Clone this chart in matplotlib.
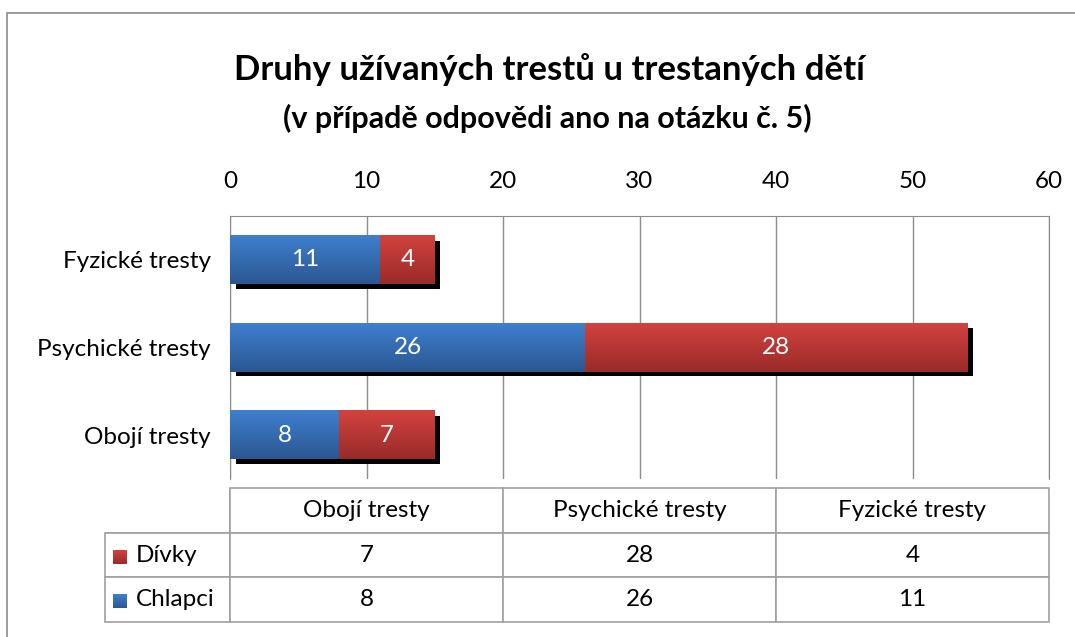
import numpy as np
import matplotlib
matplotlib.use("Agg")
import matplotlib.pyplot as plt
import matplotlib.patheffects as pe
from matplotlib.colors import LinearSegmentedColormap
from matplotlib.patches import Rectangle

plt.rcParams['font.family'] = ['Lato', 'DejaVu Sans']

# data (table order = bottom-to-top in chart)
categories = ['Obojí tresty', 'Psychické tresty', 'Fyzické tresty']
chlapci = [8, 26, 11]
divky = [7, 28, 4]
series_names = ['Dívky', 'Chlapci']
x_ticks = [0, 10, 20, 30, 40, 50, 60]

title = 'Druhy užívaných trestů u trestaných dětí'
subtitle = '(v případě odpovědi ano na otázku č. 5)'

blue_light, blue_dark = '#3f7fcf', '#2b5791'
red_light, red_dark = '#d2423e', '#992b29'
FS = 17.5

W, H = 1075, 637
fig = plt.figure(figsize=(W / 100, H / 100), dpi=100)

# outer chart border
fig.patches.append(Rectangle((7 / W, -0.1), 1.2, 1 - 13 / H + 0.1, transform=fig.transFigure,
                             fill=False, edgecolor='#8c8c8c', lw=1.2))

ax = fig.add_axes([230 / W, 1 - 479 / H, (1049 - 230) / W, (479 - 216) / H])

y = np.arange(len(categories))
shadow = [pe.SimplePatchShadow(offset=(4, -3.5), shadow_rgbFace='black', alpha=1.0), pe.Normal()]
bh = 0.55
b1 = ax.barh(y, chlapci, height=bh, color=blue_light, zorder=2, path_effects=shadow)
b2 = ax.barh(y, divky, left=chlapci, height=bh, color=red_light, zorder=2, path_effects=shadow)

# vertical gradient on each bar
grad = np.linspace(0, 1, 64).reshape(-1, 1)
for bars, c_top, c_bot in [(b1, blue_light, blue_dark), (b2, red_light, red_dark)]:
    cmap = LinearSegmentedColormap.from_list('g', [c_top, c_bot])
    for p in bars:
        x0, y0, w, h = p.get_x(), p.get_y(), p.get_width(), p.get_height()
        ax.imshow(grad, cmap=cmap, extent=(x0, x0 + w, y0, y0 + h), origin='upper',
                  aspect='auto', interpolation='bilinear', zorder=3)

for bars, vals in [(b1, chlapci), (b2, divky)]:
    for p, v in zip(bars, vals):
        ax.text(p.get_x() + p.get_width() / 2, p.get_y() + p.get_height() / 2, str(v),
                ha='center', va='center', color='white', fontsize=FS, zorder=4)

ax.set_xlim(0, 60)
ax.set_ylim(-0.5, 2.5)
ax.set_xticks(x_ticks)
ax.xaxis.tick_top()
ax.tick_params(axis='x', length=0, labelsize=FS, pad=17)
ax.set_yticks(y)
ax.set_yticklabels(categories)
ax.tick_params(axis='y', length=0, labelsize=FS, pad=14)
ax.xaxis.grid(True, color='#8c8c8c', lw=1)
ax.set_axisbelow(True)
for s in ['top', 'left', 'right']:
    ax.spines[s].set_color('#8c8c8c')
ax.spines['bottom'].set_visible(False)

fig.text(549 / W, 1 - 70 / H, title, ha='center', va='center', fontsize=25, fontweight='bold')
fig.text(547 / W, 1 - 118 / H, subtitle, ha='center', va='center', fontsize=22, fontweight='bold')

# data table
tax = fig.add_axes([105 / W, 1 - 622 / H, (1049 - 105) / W, (622 - 488) / H])
tax.axis('off')
cell_text = [[''] + categories,
             [series_names[0]] + [str(v) for v in divky],
             [series_names[1]] + [str(v) for v in chlapci]]
lab_w = 125 / 944
col_w = (1 - lab_w) / 3
tbl = tax.table(cellText=cell_text, colWidths=[lab_w] + [col_w] * 3,
                cellLoc='center', bbox=[0, 0, 1, 1])
tbl.auto_set_font_size(False)
tbl.set_fontsize(FS)
for (r, c), cell in tbl.get_celld().items():
    cell.set_edgecolor('#a0a0a0')
    cell.set_linewidth(1.2)
    if c == 0:
        cell.PAD = 0.25
        cell.set_text_props(ha='left')
tbl[0, 0].visible_edges = 'BR'

# legend keys in row label column
key_colors = [(red_light, red_dark), (blue_light, blue_dark)]
row_tops = [534, 580]
row_bots = [580, 622]
for (c_top, c_bot), rt, rb in zip(key_colors, row_tops, row_bots):
    yc = 1 - ((rt + rb) / 2 - 488) / (622 - 488)
    ks = 14 / (622 - 488)
    kx = 8 / 944
    cmap = LinearSegmentedColormap.from_list('k', [c_top, c_bot])
    tax.imshow(grad, cmap=cmap, extent=(kx, kx + 14 / 944, yc - ks / 2, yc + ks / 2),
               origin='upper', aspect='auto', transform=tax.transAxes, zorder=5)
tax.set_xlim(0, 1)
tax.set_ylim(0, 1)

fig.savefig('out.png', dpi=100)
